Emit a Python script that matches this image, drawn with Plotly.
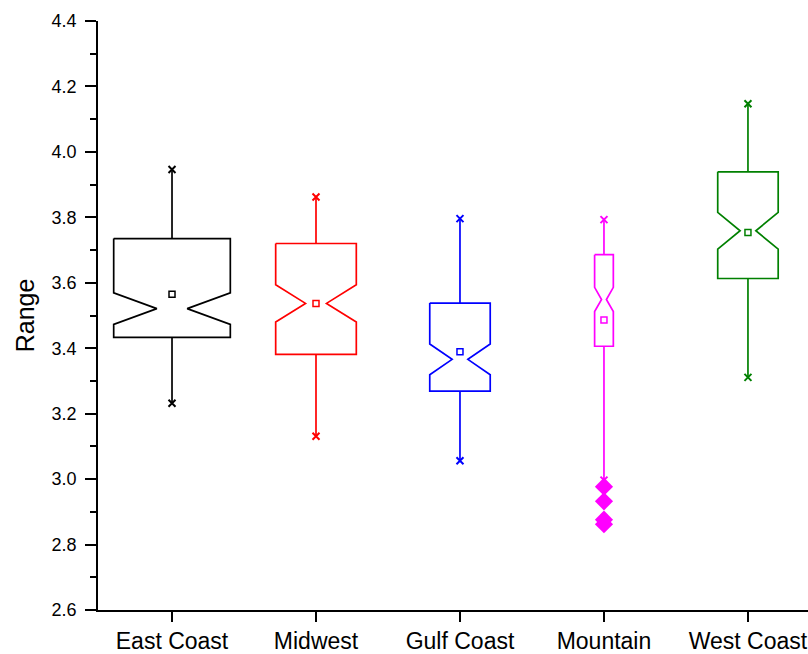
import plotly.graph_objects as go

categories = ["East Coast", "Midwest", "Gulf Coast", "Mountain", "West Coast"]
q1 = [3.433, 3.381, 3.269, 3.406, 3.613]
medians = [3.521, 3.537, 3.366, 3.549, 3.759]
q3 = [3.735, 3.720, 3.538, 3.686, 3.939]
lower_whisker = [3.232, 3.131, 3.056, 2.997, 3.311]
upper_whisker = [3.946, 3.862, 3.796, 3.793, 4.147]
means = [3.565, 3.537, 3.389, 3.486, 3.754]
notch_span = [0.048, 0.057, 0.047, 0.037, 0.056]
mountain_outliers = [2.977, 2.932, 2.876, 2.862]

colors = ["#000000", "#FF0000", "#0000FF", "#FF00FF", "#008000"]
box_widths = [0.81, 0.56, 0.42, 0.13, 0.42]
notch_tip_ratio = 0.26
LW = 1.7

fig = go.Figure()
for i, cat in enumerate(categories):
    c = colors[i]
    hw = box_widths[i] / 2
    tip = hw * notch_tip_ratio
    m, ns = medians[i], notch_span[i]
    # notched box outline (no median line across, as in the reference)
    bx = [i - hw, i + hw, i + hw, i + tip, i + hw, i + hw, i - hw, i - hw, i - tip, i - hw, i - hw]
    by = [q3[i], q3[i], m + ns, m, m - ns, q1[i], q1[i], m - ns, m, m + ns, q3[i]]
    fig.add_trace(go.Scatter(x=bx, y=by, mode="lines", line=dict(color=c, width=LW),
                             showlegend=False, hoverinfo="skip", name=cat))
    # whiskers
    fig.add_trace(go.Scatter(x=[i, i, None, i, i],
                             y=[q3[i], upper_whisker[i], None, q1[i], lower_whisker[i]],
                             mode="lines", line=dict(color=c, width=LW),
                             showlegend=False, hoverinfo="skip"))
    # whisker end markers
    fig.add_trace(go.Scatter(
        x=[i, i], y=[lower_whisker[i], upper_whisker[i]], mode="markers",
        marker=dict(symbol="x-thin", size=7, line=dict(color=c, width=2)),
        showlegend=False, hoverinfo="skip",
    ))
    # mean
    fig.add_trace(go.Scatter(
        x=[i], y=[means[i]], mode="markers",
        marker=dict(symbol="square-open", size=6, color=c, line=dict(color=c, width=1.5)),
        showlegend=False, hoverinfo="skip",
    ))

mountain_idx = categories.index("Mountain")
fig.add_trace(go.Scatter(
    x=[mountain_idx] * len(mountain_outliers), y=mountain_outliers, mode="markers",
    marker=dict(symbol="diamond", size=14, color=colors[mountain_idx]),
    showlegend=False, hoverinfo="skip",
))

font = "Liberation Sans, Arial, sans-serif"
fig.update_layout(
    width=808, height=654,
    margin=dict(l=98, r=0, t=21, b=42),
    paper_bgcolor="white", plot_bgcolor="white",
    font=dict(family=font, size=18, color="#000000"),
    showlegend=False,
)
fig.update_xaxes(
    range=[-0.514, 4.417], tickmode="array",
    tickvals=list(range(len(categories))), ticktext=categories,
    showline=True, linecolor="#000000", linewidth=1.5,
    ticks="outside", ticklen=10, tickwidth=1.5, tickcolor="#000000",
    showgrid=False, zeroline=False,
    tickfont=dict(family=font, size=23),
)
fig.update_yaxes(
    range=[2.6, 4.4], tickmode="linear", tick0=2.6, dtick=0.2, tickformat=".1f",
    showline=True, linecolor="#000000", linewidth=1.5,
    ticks="outside", ticklen=11, tickwidth=1.5, tickcolor="#000000",
    minor=dict(ticks="outside", ticklen=6, dtick=0.1, tickwidth=1.5, tickcolor="#000000"),
    showgrid=False, zeroline=False, ticklabelstandoff=5,
    title=dict(text="Range", font=dict(family=font, size=25), standoff=10),
    tickfont=dict(family=font, size=18),
)

fig.write_html(
    "out.html",
    config={"displayModeBar": False},
    post_script="document.body.style.margin='0';document.body.style.overflow='hidden';",
)
